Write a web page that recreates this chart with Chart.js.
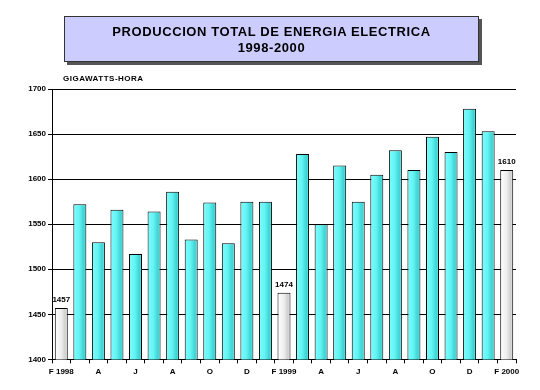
<!DOCTYPE html>
<html>
<head>
<meta charset="utf-8">
<script src="https://cdn.jsdelivr.net/npm/chart.js@4.4.1/dist/chart.umd.min.js"></script>
<style>
  html, body { margin: 0; padding: 0; background: #fff; }
  #wrap { position: relative; width: 540px; height: 390px; font-family: Arial, "Liberation Sans", sans-serif; }
  #chart { position: absolute; left: 0; top: 0; }
  .title-box {
    position: absolute; left: 64px; top: 16px; width: 415px; height: 46px;
    background: #ccccff; border: 1px solid #333;
    box-shadow: 3px 3px 0 #555;
    text-align: center; font-weight: bold; font-size: 13px; line-height: 16px;
    letter-spacing: 0.6px; color: #000; padding-top: 7px; box-sizing: border-box;
  }
  .units {
    position: absolute; left: 63px; top: 74px;
    font-size: 8px; font-weight: bold; letter-spacing: 0.5px; color: #000;
  }
</style>
</head>
<body>
<div id="wrap">
  <canvas id="chart" width="540" height="390"></canvas>
  <div class="title-box">PRODUCCION TOTAL DE ENERGIA ELECTRICA<br>1998-2000</div>
  <div class="units">GIGAWATTS-HORA</div>
</div>
<script>
// Producción mensual de energía eléctrica, feb 1998 - feb 2000 (GWh)
const months = [
  'F 1998', 'M', 'A', 'M', 'J', 'J', 'A', 'S', 'O', 'N', 'D', 'E',
  'F 1999', 'M', 'A', 'M', 'J', 'J', 'A', 'S', 'O', 'N', 'D', 'E',
  'F 2000'
];

const production = [
  1457, 1572, 1530, 1566, 1517, 1564, 1586, 1533, 1574, 1529, 1575, 1575,
  1474, 1628, 1550, 1615, 1575, 1605, 1632, 1610, 1647, 1630, 1678, 1653,
  1610
];

// February bars are highlighted (grey) and carry a value label
const highlighted = [0, 12, 24];

const yTicks = [1400, 1450, 1500, 1550, 1600, 1650, 1700];

const CYAN_STOPS = [[0, '#7ffcfc'], [0.45, '#63f4f4'], [0.8, '#3fd2d2'], [1, '#5eeeee']];
const GREY_STOPS = [[0, '#ffffff'], [0.5, '#eeeeee'], [0.8, '#cfcfcf'], [1, '#e8e8e8']];
const BAR_PCT = 0.7;

function barGradient(ctx) {
  const chart = ctx.chart;
  const stops = highlighted.includes(ctx.dataIndex) ? GREY_STOPS : CYAN_STOPS;
  if (!chart.chartArea || !chart.scales.x) return stops[1][1];
  const xs = chart.scales.x;
  const cx = xs.getPixelForValue(ctx.dataIndex);
  const w = (xs.width / months.length) * BAR_PCT;
  const g = chart.ctx.createLinearGradient(cx - w / 2, 0, cx + w / 2, 0);
  stops.forEach(([o, c]) => g.addColorStop(o, c));
  return g;
}

// Draws the value above the grey bars
const valueLabels = {
  id: 'valueLabels',
  afterDatasetsDraw(chart) {
    const ctx = chart.ctx;
    const meta = chart.getDatasetMeta(0);
    ctx.save();
    ctx.font = 'bold 8px Arial, "Liberation Sans", sans-serif';
    ctx.fillStyle = '#000';
    ctx.textAlign = 'center';
    ctx.textBaseline = 'bottom';
    highlighted.forEach(i => {
      const bar = meta.data[i];
      ctx.fillText(String(production[i]), bar.x, bar.y - 4);
    });
    ctx.restore();
  }
};

new Chart(document.getElementById('chart'), {
  type: 'bar',
  data: {
    labels: months,
    datasets: [{
      data: production,
      backgroundColor: barGradient,
      borderColor: '#000',
      borderWidth: 1,
      borderSkipped: false,
      barPercentage: BAR_PCT,
      categoryPercentage: 1
    }]
  },
  options: {
    responsive: false,
    animation: false,
    layout: { padding: { left: 0, right: 24, top: 89, bottom: 9 } },
    plugins: {
      legend: { display: false },
      tooltip: { enabled: false },
      title: { display: false }
    },
    scales: {
      x: {
        offset: true,
        grid: {
          offset: true,
          drawOnChartArea: false,
          drawTicks: true,
          tickLength: 4,
          color: '#000',
          lineWidth: 1
        },
        border: { display: true, color: '#000', width: 1 },
        ticks: {
          autoSkip: false,
          maxRotation: 0,
          minRotation: 0,
          padding: 4,
          color: '#000',
          font: { size: 8, weight: 'bold', family: 'Arial, "Liberation Sans", sans-serif' },
          callback: (v, i) => (i % 2 === 0 ? months[i] : '')
        }
      },
      y: {
        min: yTicks[0],
        max: yTicks[yTicks.length - 1],
        afterFit: s => { s.width = 52; },
        afterBuildTicks: s => { s.ticks = yTicks.map(v => ({ value: v })); },
        grid: { color: '#000', lineWidth: 1, tickLength: 4 },
        border: { display: true, color: '#000', width: 1 },
        ticks: {
          padding: 2,
          color: '#000',
          font: { size: 8, weight: 'bold', family: 'Arial, "Liberation Sans", sans-serif' },
          callback: v => String(v)
        }
      }
    }
  },
  plugins: [valueLabels]
});
</script>
</body>
</html>
